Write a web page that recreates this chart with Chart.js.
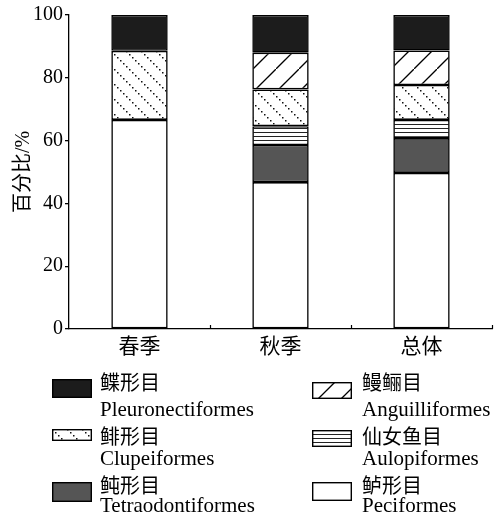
<!DOCTYPE html>
<html lang="zh">
<head>
<meta charset="UTF-8">
<title>鱼类组成</title>
<script src="https://cdn.jsdelivr.net/npm/chart.js"></script>
<style>
body {
    margin: 0;
    background: #fff;
}
.wrap {
    position: relative;
    width: 499px;
    height: 516px;
}
.legend-item {
    position: absolute;
    font-family: 'Liberation Serif', 'Noto Sans CJK SC', serif;
    font-size: 20px;
    color: #000;
    line-height: 20px;
    white-space: nowrap;
}
.legend-item.latin {
    font-size: 21px;
}
.swatch {
    position: absolute;
}
</style>
</head>
<body>
<div class="wrap" id="wrap">
    <canvas id="chart" width="499" height="516"></canvas>
</div>
<script>
// categories and series (percent)
const categories = ['春季', '秋季', '总体'];
const peciformes = [66.6, 46.8, 49.7];
const tetraodontiformes = [0, 11.8, 11.1];
const aulopiformes = [0, 6.0, 5.8];
const clupeiformes = [22.0, 11.7, 11.1];
const anguilliformes = [0, 11.7, 11.0];
const pleuronectiformes = [11.4, 12.0, 11.3];
const yTicks = [0, 20, 40, 60, 80, 100];

const zhNames = ['鲈形目', '鲀形目', '仙女鱼目', '鲱形目', '鳗鲡目', '鲽形目'];
const latinNames = ['Peciformes', 'Tetraodontiformes', 'Aulopiformes', 'Clupeiformes', 'Anguilliformes', 'Pleuronectiformes'];

const FONT = "'Liberation Serif', 'Noto Sans CJK SC', serif";

function makePattern(kind) {
    const c = document.createElement('canvas');
    let g;
    if (kind === 'hatch') {
        c.width = 23; c.height = 23;
        g = c.getContext('2d');
        g.fillStyle = '#fff';
        g.fillRect(0, 0, 23, 23);
        g.strokeStyle = '#000';
        g.lineWidth = 1.3;
        g.beginPath();
        g.moveTo(-2, 25); g.lineTo(25, -2);
        g.stroke();
    } else if (kind === 'dots') {
        c.width = 15; c.height = 15;
        g = c.getContext('2d');
        g.fillStyle = '#fff';
        g.fillRect(0, 0, 15, 15);
        g.fillStyle = '#111';
        for (let k = 0; k < 5; k++) {
            g.fillRect(k * 3, k * 3, 1.5, 1.5);
        }
    } else if (kind === 'hlines') {
        c.width = 4; c.height = 4;
        g = c.getContext('2d');
        g.fillStyle = '#fff';
        g.fillRect(0, 0, 4, 4);
        g.fillStyle = '#222';
        g.fillRect(0, 0, 4, 1);
    }
    return c.getContext('2d').createPattern(c, 'repeat');
}

const fills = [
    '#ffffff',
    '#555555',
    makePattern('hlines'),
    makePattern('dots'),
    makePattern('hatch'),
    '#1c1c1c'
];
const series = [peciformes, tetraodontiformes, aulopiformes, clupeiformes, anguilliformes, pleuronectiformes];

// small inward ticks between categories on the x axis
const xTickPlugin = {
    id: 'xTicks',
    afterDraw(chart) {
        const x = chart.scales.x;
        const ctx = chart.ctx;
        const half = (x.getPixelForTick(1) - x.getPixelForTick(0)) / 2;
        ctx.save();
        ctx.strokeStyle = '#000';
        ctx.lineWidth = 1.2;
        for (let i = 0; i < categories.length; i++) {
            const px = Math.round(x.getPixelForTick(i) + half) + 0.5;
            ctx.beginPath();
            ctx.moveTo(px, x.top);
            ctx.lineTo(px, x.top - 4);
            ctx.stroke();
        }
        ctx.restore();
    }
};

new Chart(document.getElementById('chart'), {
    type: 'bar',
    data: {
        labels: categories,
        datasets: series.map((d, i) => ({
            label: zhNames[i],
            data: d,
            backgroundColor: fills[i],
            borderColor: '#000',
            borderWidth: 1.6,
            borderSkipped: false,
            categoryPercentage: 1,
            barPercentage: 0.4
        }))
    },
    options: {
        responsive: false,
        animation: false,
        devicePixelRatio: 1,
        layout: { padding: { top: 15, right: 7, left: 0, bottom: 0 } },
        plugins: {
            legend: { display: false },
            tooltip: { enabled: false }
        },
        scales: {
            x: {
                stacked: true,
                grid: { drawOnChartArea: false, drawTicks: false },
                border: { color: '#000', width: 1.3 },
                ticks: {
                    color: '#000',
                    padding: 6,
                    font: { family: FONT, size: 21 }
                },
                afterFit(scale) { scale.height = 187; }
            },
            y: {
                stacked: true,
                min: 0,
                max: 100,
                afterBuildTicks(scale) { scale.ticks = yTicks.map(v => ({ value: v })); },
                grid: { drawOnChartArea: false, drawTicks: true, tickLength: 4, color: '#000', lineWidth: 1.3 },
                border: { color: '#000', width: 1.3 },
                ticks: {
                    color: '#000',
                    padding: 2,
                    font: { family: FONT, size: 20 }
                },
                title: {
                    display: true,
                    text: '百分比/%',
                    color: '#000',
                    padding: { top: 12, bottom: 0 },
                    font: { family: FONT, size: 20 }
                },
                afterFit(scale) { scale.width = 69; }
            }
        }
    },
    plugins: [xTickPlugin]
});

// legend below the plot
const legendItems = [
    { s: 5, col: 0, row: 0, top: 379, h: 18 },
    { s: 3, col: 0, row: 1, top: 429, h: 11 },
    { s: 1, col: 0, row: 2, top: 482, h: 19 },
    { s: 4, col: 1, row: 0, top: 382, h: 16 },
    { s: 2, col: 1, row: 1, top: 430, h: 16 },
    { s: 0, col: 1, row: 2, top: 482, h: 18 }
];
const zhCenters = [383, 437, 486];
const latinCenters = [410, 459, 506];
const wrap = document.getElementById('wrap');
legendItems.forEach(it => {
    const sx = it.col === 0 ? 52 : 312;
    const tx = it.col === 0 ? 100 : 362;
    const sw = document.createElement('canvas');
    sw.width = 40; sw.height = it.h + 1;
    sw.className = 'swatch';
    sw.style.left = sx + 'px';
    sw.style.top = it.top + 'px';
    const g = sw.getContext('2d');
    g.fillStyle = fills[it.s];
    g.fillRect(0, 0, 40, it.h + 1);
    g.strokeStyle = '#000';
    g.lineWidth = 1.4;
    g.strokeRect(0.7, 0.7, 38.6, it.h - 0.4);
    wrap.appendChild(sw);

    const zh = document.createElement('div');
    zh.className = 'legend-item';
    zh.textContent = zhNames[it.s];
    zh.style.left = tx + 'px';
    zh.style.top = (zhCenters[it.row] - 10) + 'px';
    wrap.appendChild(zh);

    const la = document.createElement('div');
    la.className = 'legend-item latin';
    la.textContent = latinNames[it.s];
    la.style.left = tx + 'px';
    la.style.top = (latinCenters[it.row] - 11) + 'px';
    wrap.appendChild(la);
});
</script>
</body>
</html>
